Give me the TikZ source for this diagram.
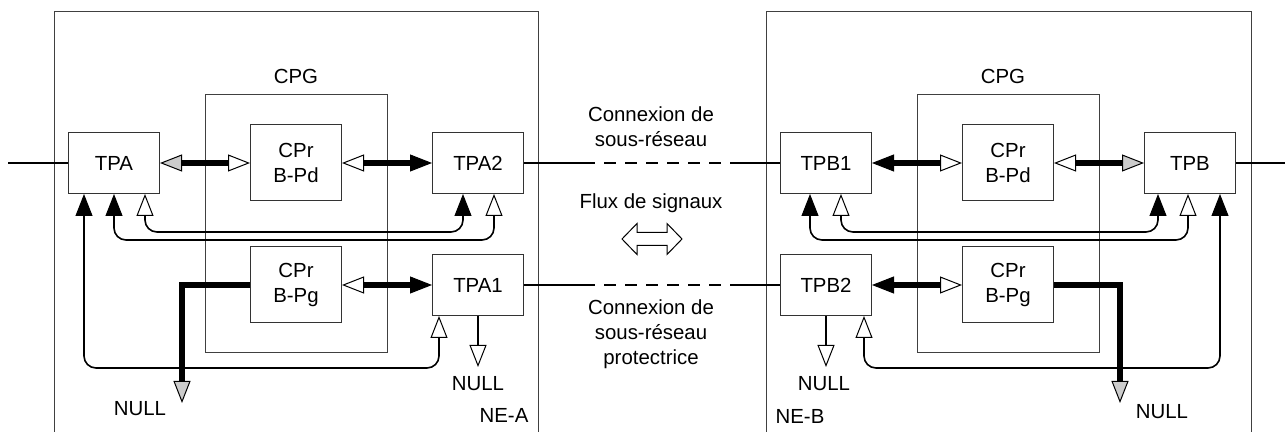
\documentclass[tikz,border=0pt]{standalone}
\usepackage{fontspec}
\setmainfont{Liberation Sans}
\usetikzlibrary{arrows.meta, positioning, calc}

\begin{document}
\begin{tikzpicture}[
    x=0.5pt, y=-0.5pt,
    font=\fontsize{10.2}{12.5}\selectfont,
    nebox/.style = {draw=black!75, line width=0.5pt},
    block/.style = {draw=black!80, line width=0.5pt, rectangle, minimum width=45.5pt, minimum height=30.5pt, align=center, fill=white, inner sep=0pt},
    cpr/.style = {block, minimum height=38pt},
    cpg/.style = {nebox, rectangle, minimum width=91pt, minimum height=129pt, inner sep=0pt},
    wire/.style = {line width=0.7pt},
    bus/.style = {line width=2.9pt},
    fbline/.style = {line width=0.8pt, rounded corners=6pt},
    blackhead/.tip = {Triangle[length=11pt, width=8.5pt, line width=0.5pt]},
    openhead/.tip = {Triangle[length=11pt, width=8.5pt, line width=0.5pt, fill=white]},
    grayhead/.tip = {Triangle[length=11pt, width=8.5pt, line width=0.5pt, fill=black!20]}
]
    \useasboundingbox (0,0) rectangle (1285,432);

    % Frames
    \draw[nebox] (54,432) |- (538,12) -- (538,432);
    \draw[nebox] (766,432) |- (1251,12) -- (1251,432);
    \node[cpg] (cpgA) at (296,224) {};
    \node[cpg] (cpgB) at (1008,224) {};
    \node (cpgAlbl) at (296,76) {CPG};
    \node (cpgBlbl) at (1003,76) {CPG};
    \node (nea) at (504,415) {NE-A};
    \node (neb) at (800,416) {NE-B};

    % Nodes NE-A
    \node[block] (tpa) at (114,163) {TPA};
    \node[cpr] (cprdA) at (296,163) {CPr\\B-Pd};
    \node[block] (tpa2) at (478,163) {TPA2};
    \node[cpr] (cprgA) at (296,285) {CPr\\B-Pg};
    \node[block] (tpa1) at (478,285) {TPA1};

    % Nodes NE-B
    \node[block] (tpb1) at (826,163) {TPB1};
    \node[cpr] (cprdB) at (1008,163) {CPr\\B-Pd};
    \node[block] (tpb) at (1190,163) {TPB};
    \node[block] (tpb2) at (826,285) {TPB2};
    \node[cpr] (cprgB) at (1008,285) {CPr\\B-Pg};

    % Middle labels
    \node[align=center] (conn) at (651,127) {Connexion de\\sous-réseau};
    \node (fluxlbl) at (651,203) {Flux de signaux};
    \node[align=center] (connp) at (651,334) {Connexion de\\sous-réseau\\protectrice};
    % signal flow arrow
    \coordinate (flux) at (652,239);
    \draw[line width=0.5pt, fill=white] (flux) ++(-30,0) -- ++(15,-15.5) -- ++(0,9) -- ++(30,0) -- ++(0,-9)
        -- ++(15,15.5) -- ++(-15,15.5) -- ++(0,-9) -- ++(-30,0) -- ++(0,9) -- cycle;

    % Coordinates
    \coordinate (inA) at (8,163);
    \coordinate (outB) at (1285,163);
    \coordinate (dA1) at (583,163);
    \coordinate (dA2) at (730,163);
    \coordinate (dB1) at (583,285);
    \coordinate (dB2) at (730,285);
    \coordinate (nullA) at (182,403);
    \coordinate (nullA1) at (478,367);
    \coordinate (nullB) at (1120,403);
    \coordinate (nullB2) at (826,367);

    % Lines in and out
    \draw[wire] (inA) -- (tpa);
    \draw[wire] (tpb) -- (outB);
    \draw[wire] (tpa2) -- (dA1);
    \draw[wire, dash pattern=on 6pt off 4.5pt] (dA1) -- (dA2);
    \draw[wire] (dA2) -- (tpb1);
    \draw[wire] (tpa1) -- (dB1);
    \draw[wire, dash pattern=on 6pt off 4.5pt] (dB1) -- (dB2);
    \draw[wire] (dB2) -- (tpb2);

    % Edges NE-A
    \draw[bus, {grayhead}-{openhead}] (tpa) -- (cprdA);
    \draw[bus, {openhead}-{blackhead}] (cprdA) -- (tpa2);
    \draw[bus, {openhead}-{blackhead}] (cprgA) -- (tpa1);
    \draw[bus, -{grayhead}] (cprgA.west) -| (nullA);
    \draw[wire, -{openhead}] (tpa1.south) -- (nullA1);
    \draw[fbline, {openhead}-{blackhead}] ($(tpa.south)+(31,0)$) -- ++(0,38) -| ($(tpa2.south)+(-15,0)$);
    \draw[fbline, {blackhead}-{openhead}] (tpa.south) -- ++(0,46) -| ($(tpa2.south)+(16,0)$);
    \draw[fbline, {blackhead}-{openhead}] ($(tpa.south)+(-30,0)$) -- ++(0,174) -| ($(tpa1.south)+(-39,0)$);
    \node (nullAlbl) at (140,409) {NULL};
    \node (nullA1lbl) at (478,384) {NULL};

    % Edges NE-B
    \draw[bus, {blackhead}-{openhead}] (tpb1) -- (cprdB);
    \draw[bus, {openhead}-{grayhead}] (cprdB) -- (tpb);
    \draw[bus, {blackhead}-{openhead}] (tpb2) -- (cprgB);
    \draw[bus, -{grayhead}] (cprgB.east) -| (nullB);
    \draw[wire, -{openhead}] (tpb2.south) -- (nullB2);
    \draw[fbline, {openhead}-{blackhead}] ($(tpb1.south)+(15,0)$) -- ++(0,38) -| ($(tpb.south)+(-32,0)$);
    \draw[fbline, {blackhead}-{openhead}] ($(tpb1.south)+(-16,0)$) -- ++(0,46) -| ($(tpb.south)+(-2,0)$);
    \draw[fbline, {blackhead}-{openhead}] ($(tpb.south)+(30,0)$) -- ++(0,174) -| ($(tpb2.south)+(38,0)$);
    \node (nullBlbl) at (1162,412) {NULL};
    \node (nullB2lbl) at (824,384) {NULL};

\end{tikzpicture}
\end{document}
